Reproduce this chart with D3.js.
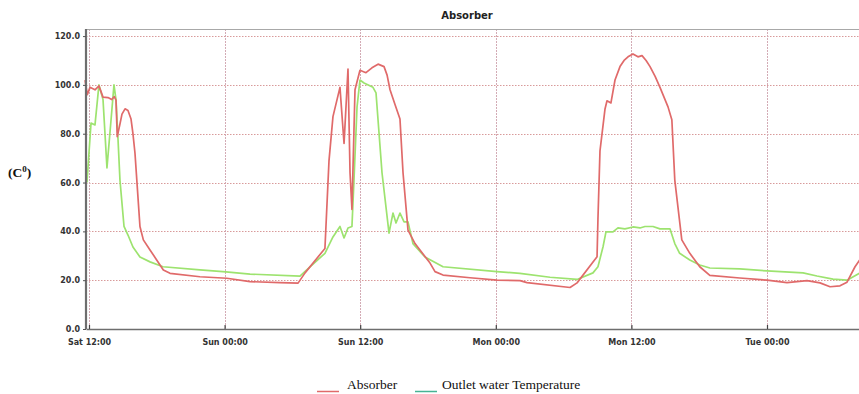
<!DOCTYPE html>
<html>
<head>
<meta charset="utf-8">
<script src="https://cdn.jsdelivr.net/npm/d3@7"></script>
<style>
  html, body { margin: 0; padding: 0; background: #fff; }
  svg { display: block; }
</style>
</head>
<body>
<svg id="chart" width="859" height="394"></svg>
<script>
// Hours since Saturday 00:00 and temperature readings (°C)
const absorberHours = [11.65, 11.85, 12.09, 12.53, 12.88, 13.24, 13.68, 14.01, 14.24, 14.39, 14.50, 14.74, 14.92, 15.19, 15.45, 15.72, 15.89, 16.07, 16.29, 16.51, 16.81, 17.40, 17.99, 18.58, 19.17, 21.82, 24.19, 26.25, 28.90, 30.50, 31.12, 32.88, 33.24, 33.59, 34.21, 34.57, 34.92, 35.10, 35.27, 35.54, 35.98, 36.51, 37.04, 37.58, 38.11, 38.38, 38.64, 39.08, 39.52, 39.79, 40.23, 40.85, 42.18, 42.62, 43.33, 45.72, 48.11, 50.14, 50.76, 54.57, 55.19, 56.96, 57.04, 57.22, 57.66, 57.84, 58.19, 58.55, 58.99, 59.35, 59.70, 60.14, 60.58, 60.94, 61.30, 61.65, 62.10, 62.53, 63.24, 63.58, 63.84, 64.46, 65.17, 66.05, 66.94, 69.59, 72.00, 73.77, 75.54, 76.69, 77.58, 78.46, 79.08, 79.79, 80.23];
const absorberTemp  = [102, 96, 99, 98, 99.6, 95, 94.8, 94, 95.2, 93.8, 78.8, 84, 88, 90.2, 89.5, 86, 80, 72, 57, 42, 36.5, 32.4, 28.3, 24.2, 22.8, 21.4, 20.8, 19.4, 19, 18.8, 23, 33, 69, 87, 99, 76, 106.5, 64, 49, 98, 106, 105, 107, 108.5, 107.5, 104, 98, 92, 86, 64, 40.5, 35, 27, 23.5, 22.1, 21, 20, 19.8, 19, 17, 18.9, 29.6, 45, 73, 90, 93.5, 92.6, 102, 107.5, 110, 111.5, 112.7, 111.5, 112, 110, 107.5, 103.5, 99, 91, 85.7, 61, 36.5, 31, 25.5, 22, 20.9, 20, 19, 19.8, 18.9, 17.3, 17.7, 19.2, 25.5, 28.5];

const outletHours = [11.82, 12.18, 12.53, 12.88, 13.24, 13.59, 13.95, 14.21, 14.39, 14.57, 14.74, 15.10, 15.45, 15.89, 16.51, 17.40, 18.55, 21.82, 24.12, 26.25, 30.67, 31.56, 32.88, 33.59, 34.21, 34.57, 34.92, 35.27, 35.45, 35.72, 35.98, 36.34, 37.13, 37.40, 37.93, 38.55, 38.90, 39.17, 39.52, 39.88, 40.23, 40.67, 41.73, 43.33, 48.11, 50.14, 52.80, 55.19, 56.60, 57.04, 57.49, 57.75, 58.37, 58.81, 59.43, 60.14, 60.76, 61.20, 61.91, 62.53, 63.42, 63.84, 64.27, 65.17, 66.05, 66.94, 69.59, 72.00, 75.19, 76.42, 77.84, 79.08, 80.23];
const outletTemp  = [60, 84.4, 83.6, 100, 94, 66, 85.6, 100, 94, 77.5, 61, 42, 38.5, 33.6, 29.5, 27.5, 25.5, 24.2, 23.4, 22.5, 21.7, 25.5, 31, 37.7, 42, 37.3, 41.4, 42, 61, 91, 102, 100.8, 99, 96.7, 64, 39.3, 47.5, 43.4, 47.5, 43.9, 43.9, 35, 29.5, 25.5, 23.5, 22.8, 21.2, 20.3, 23, 25.5, 33.7, 39.8, 39.8, 41.4, 41, 41.8, 41.4, 42, 42, 41, 41, 35, 31, 28.3, 26.2, 25, 24.6, 23.8, 23, 21.7, 20.4, 20, 23];

const yTicks = [0, 20, 40, 60, 80, 100, 120];
const seriesNames = ["Absorber", "Outlet water Temperature"];
const chartTitle = "Absorber";

// Saturday 1 August 2015, 00:00
const base = new Date(2015, 7, 1, 0, 0, 0);
const toDate = h => new Date(base.getTime() + h * 3600 * 1000);

const svg = d3.select("#chart");
const plotLeft = 86, plotRight = 860, plotTop = 29, plotBottom = 329;

const x = d3.scaleTime()
  .domain([toDate(11.735), toDate(80.23)])
  .range([plotLeft, plotRight]);
const y = d3.scaleLinear()
  .domain([0, 122.9])
  .range([plotBottom, plotTop]);

const tickDates = d3.timeHour.every(12).range(x.domain()[0], x.domain()[1]);

// Gridlines
const grid = svg.append("g");
grid.selectAll("line.h").data(yTicks.filter(d => d > 0)).join("line")
  .attr("x1", plotLeft).attr("x2", plotRight)
  .attr("y1", d => Math.round(y(d)) + 0.5).attr("y2", d => Math.round(y(d)) + 0.5)
  .attr("stroke", "#d89a9a").attr("stroke-width", 1)
  .attr("stroke-dasharray", "1.5,1.5");
grid.selectAll("line.v").data(tickDates).join("line")
  .attr("x1", d => Math.round(x(d)) + 0.5).attr("x2", d => Math.round(x(d)) + 0.5)
  .attr("y1", plotTop).attr("y2", plotBottom)
  .attr("stroke", "#d3abb5").attr("stroke-width", 1)
  .attr("stroke-dasharray", "2,1");

// Frame top
svg.append("line")
  .attr("x1", plotLeft).attr("x2", plotRight).attr("y1", plotTop + 0.5).attr("y2", plotTop + 0.5)
  .attr("stroke", "#a8a8a8").attr("stroke-width", 1.2);

// Series lines
const line = d3.line()
  .x(d => x(toDate(d[0])))
  .y(d => y(d[1]));

svg.append("path")
  .datum(outletHours.map((h, i) => [h, outletTemp[i]]))
  .attr("d", line)
  .attr("fill", "none")
  .attr("stroke", "#9de36f")
  .attr("stroke-width", 1.7)
  .attr("stroke-linejoin", "round");

svg.append("path")
  .datum(absorberHours.map((h, i) => [h, absorberTemp[i]]))
  .attr("d", line)
  .attr("fill", "none")
  .attr("stroke", "#e06a6a")
  .attr("stroke-width", 1.7)
  .attr("stroke-linejoin", "round");

// Axes
const yAxis = svg.append("g")
  .attr("transform", `translate(${plotLeft},0)`)
  .call(d3.axisLeft(y).tickValues(yTicks).tickFormat(d3.format(".1f")).tickSize(3).tickPadding(3));
yAxis.select(".domain").attr("stroke", "#6e6e6e").attr("stroke-width", 2.2)
  .attr("d", `M0,${plotTop}V${plotBottom}`);
yAxis.selectAll(".tick line").attr("stroke", "#555");
yAxis.selectAll("text")
  .attr("font-family", "DejaVu Sans, Verdana, sans-serif")
  .attr("font-weight", "bold")
  .attr("font-size", "8px")
  .attr("fill", "#333");

const xAxis = svg.append("g")
  .attr("transform", `translate(0,${plotBottom})`)
  .call(d3.axisBottom(x).tickValues(tickDates).tickFormat(d3.timeFormat("%a %H:%M")).tickSizeInner(-4).tickSizeOuter(0).tickPadding(10));
xAxis.select(".domain").attr("stroke", "#6e6e6e").attr("stroke-width", 1.4);
xAxis.selectAll(".tick line").attr("stroke", "#444").attr("stroke-width", 1.2);
xAxis.selectAll("text")
  .attr("font-family", "DejaVu Sans, Verdana, sans-serif")
  .attr("font-weight", "bold")
  .attr("font-size", "8px")
  .attr("fill", "#333");

// Title
svg.append("text")
  .attr("x", 467).attr("y", 19)
  .attr("text-anchor", "middle")
  .attr("font-family", "DejaVu Sans, Verdana, sans-serif")
  .attr("font-weight", "bold")
  .attr("font-size", "10px")
  .attr("fill", "#222")
  .text(chartTitle);

// Unit label
const unit = svg.append("text")
  .attr("x", 8).attr("y", 177)
  .attr("font-family", "Liberation Serif, Times New Roman, serif")
  .attr("font-weight", "bold")
  .attr("font-size", "13.5px")
  .attr("fill", "#111");
unit.append("tspan").text("(C");
unit.append("tspan").attr("dy", -5).attr("font-size", "9px").text("0");
unit.append("tspan").attr("dy", 5).text(")");

// Legend
const legendColors = ["#e06a6a", "#47b394"];
const legendX = [317, 415];
const legend = svg.append("g");
seriesNames.forEach((name, i) => {
  legend.append("line")
    .attr("x1", legendX[i]).attr("x2", legendX[i] + 22)
    .attr("y1", 391.5).attr("y2", 391.5)
    .attr("stroke", legendColors[i]).attr("stroke-width", 1.5);
  legend.append("text")
    .attr("x", legendX[i] + 30 - (i ? 3 : 0)).attr("y", 389)
    .attr("font-family", "Liberation Serif, Times New Roman, serif")
    .attr("font-size", "13.5px")
    .attr("fill", "#111")
    .text(name);
});
</script>
</body>
</html>
